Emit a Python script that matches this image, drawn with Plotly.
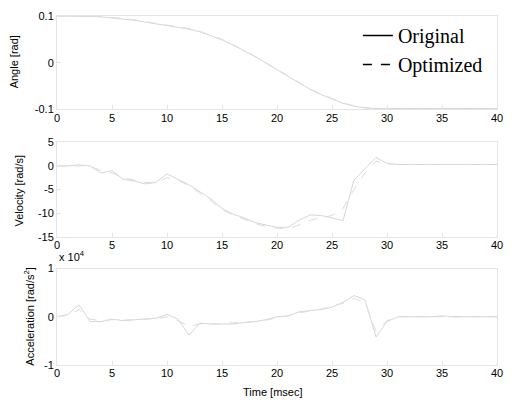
import plotly.graph_objects as go
from plotly.subplots import make_subplots

# ---- data ----
time_ms = [0, 1, 2, 3, 4, 5, 6, 7, 8, 9, 10, 11, 12, 13, 14, 15, 16, 17, 18, 19, 20,
           21, 22, 23, 24, 25, 26, 27, 28, 29, 30, 31, 32, 33, 34, 35, 36, 37, 38, 39, 40]

angle_orig = [0.1, 0.1, 0.1, 0.099, 0.098, 0.096, 0.094, 0.091, 0.087, 0.083, 0.079,
              0.076, 0.072, 0.066, 0.058, 0.049, 0.038, 0.026, 0.013, -0.001, -0.015,
              -0.03, -0.044, -0.057, -0.068, -0.078, -0.087, -0.093, -0.097, -0.098, -0.098,
              -0.098, -0.098, -0.098, -0.098, -0.098, -0.098, -0.098, -0.098, -0.098, -0.098]
angle_opt = [0.1, 0.1, 0.1, 0.1, 0.099, 0.097, 0.095, 0.092, 0.088, 0.084, 0.080,
             0.077, 0.073, 0.067, 0.059, 0.050, 0.039, 0.027, 0.014, 0.0, -0.014,
             -0.029, -0.043, -0.056, -0.067, -0.077, -0.086, -0.092, -0.096, -0.098, -0.099,
             -0.099, -0.099, -0.099, -0.099, -0.099, -0.099, -0.099, -0.099, -0.099, -0.099]

vel_orig = [0, 0, 0.2, 0, -1.5, -1.0, -2.8, -3.2, -3.8, -3.5, -1.7, -2.9, -4.0, -5.5,
            -7.0, -9.0, -10.2, -11.0, -12.0, -12.5, -13.0, -13.0, -11.5, -10.4, -10.5,
            -11.0, -11.6, -3.0, -0.5, 1.8, 0.5, 0.3, 0.3, 0.3, 0.4, 0.4, 0.3, 0.3, 0.3, 0.3, 0.3]
vel_opt = [0, 0, 0, 0, -1.0, -1.5, -2.5, -3.0, -3.5, -3.6, -2.5, -3.0, -4.2, -5.8,
           -7.4, -9.3, -10.4, -11.3, -12.2, -12.8, -13.2, -13.3, -12.5, -11.5, -11.0,
           -10.5, -9.0, -5.0, -1.5, 1.0, 0.4, 0.3, 0.3, 0.3, 0.3, 0.3, 0.3, 0.3, 0.3, 0.3, 0.3]

acc_orig = [0, 0.05, 0.25, -0.1, -0.1, -0.05, -0.08, -0.06, -0.05, -0.03, 0.05, -0.05,
            -0.38, -0.13, -0.15, -0.15, -0.15, -0.12, -0.1, -0.06, 0.0, 0.02, 0.1, 0.13,
            0.15, 0.2, 0.3, 0.44, 0.35, -0.42, -0.1, 0, 0, 0, 0, 0.02, 0, 0, 0, 0.01, 0]
acc_opt = [0, 0.03, 0.15, -0.05, -0.08, -0.06, -0.07, -0.06, -0.05, -0.04, 0.0, -0.08,
           -0.2, -0.15, -0.15, -0.14, -0.13, -0.12, -0.1, -0.07, -0.03, 0.02, 0.08, 0.12,
           0.16, 0.22, 0.28, 0.38, 0.3, -0.3, -0.08, 0, 0, 0, 0, 0.01, 0, 0, 0, 0, 0]

x_ticks = [0, 5, 10, 15, 20, 25, 30, 35, 40]
angle_ticks = [-0.1, 0, 0.1]
vel_ticks = [-15, -10, -5, 0, 5]
acc_ticks = [-1, 0, 1]

LINE_ORIG = "#d6d6d6"
LINE_OPT = "#dcdcdc"
FRAME = "#e4e4e4"
SANS = "Liberation Sans, Arial, sans-serif"
SERIF = "Liberation Serif, Times New Roman, serif"

fig = make_subplots(rows=3, cols=1, shared_xaxes=False, vertical_spacing=0.0)

series = [(angle_orig, angle_opt), (vel_orig, vel_opt), (acc_orig, acc_opt)]
for i, (o, p) in enumerate(series, start=1):
    fig.add_trace(go.Scatter(x=time_ms, y=o, mode="lines", showlegend=False,
                             line=dict(color=LINE_ORIG, width=1)), row=i, col=1)
    fig.add_trace(go.Scatter(x=time_ms, y=p, mode="lines", showlegend=False,
                             line=dict(color=LINE_OPT, width=1, dash="dash")), row=i, col=1)

# legend-only entries (black, as printed)
fig.add_trace(go.Scatter(x=[None], y=[None], mode="lines", name="Original",
                         line=dict(color="black", width=1.5)), row=1, col=1)
fig.add_trace(go.Scatter(x=[None], y=[None], mode="lines", name="Optimized",
                         line=dict(color="black", width=1.5, dash="dash")), row=1, col=1)

H_PLOT = 351.0
def dom(top_px, bot_px):
    return [(365 - bot_px) / H_PLOT, (365 - top_px) / H_PLOT]

axis_common = dict(showline=True, linecolor=FRAME, linewidth=1, mirror=True,
                   ticks="inside", ticklen=4, tickcolor=FRAME, showgrid=False,
                   zeroline=False, tickfont=dict(family=SANS, size=11, color="black"))

doms = [dom(14, 108), dom(141, 236), dom(268, 365)]
yranges = [[-0.1, 0.1], [-15, 5], [-1, 1]]
yticks = [angle_ticks, vel_ticks, acc_ticks]
for i in range(3):
    sfx = "" if i == 0 else str(i + 1)
    fig.layout["xaxis" + sfx].update(range=[0, 40], tickvals=x_ticks, domain=[0, 1],
                                     anchor="y" + sfx, ticklabelstandoff=-2, **axis_common)
    fig.layout["yaxis" + sfx].update(range=yranges[i], tickvals=yticks[i],
                                     ticktext=[("%g" % v) for v in yticks[i]],
                                     domain=doms[i], anchor="x" + sfx, **axis_common)

def px_x(px):
    return (px - 57) / 446.0

def px_y(py):
    return (365 - py) / H_PLOT

annots = [
    dict(text="Angle [rad]", x=px_x(13), y=px_y(60), textangle=-90, size=11),
    dict(text="Velocity [rad/s]", x=px_x(18), y=px_y(190), textangle=-90, size=11),
    dict(text="Acceleration [rad/s<sup>2</sup>]", x=px_x(29), y=px_y(316), textangle=-90, size=11),
    dict(text="Time [msec]", x=px_x(276), y=px_y(392), textangle=0, size=11),
    dict(text="x 10<sup>4</sup>", x=px_x(72), y=px_y(255), textangle=0, size=11),
]
for a in annots:
    fig.add_annotation(text=a["text"], x=a["x"], y=a["y"], xref="paper", yref="paper",
                       textangle=a["textangle"], showarrow=False,
                       xanchor="center", yanchor="middle",
                       font=dict(family=SANS, size=a["size"], color="black"))

fig.update_layout(
    width=513, height=406,
    margin=dict(l=57, r=10, t=14, b=41),
    paper_bgcolor="white", plot_bgcolor="white",
    legend=dict(x=px_x(362), y=px_y(14), xanchor="left", yanchor="top",
                bgcolor="rgba(0,0,0,0)", borderwidth=0,
                font=dict(family=SERIF, size=20, color="black"),
                tracegroupgap=0, itemwidth=30),
)

fig.write_html("out.html", config={"displayModeBar": False},
               post_script="document.body.style.margin='0';document.body.style.overflow='hidden';")
